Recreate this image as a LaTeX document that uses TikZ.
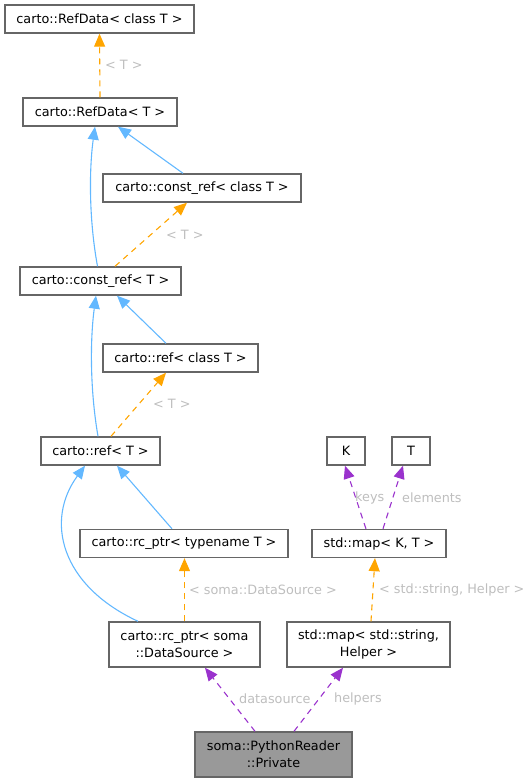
\documentclass[tikz,border=0pt]{standalone}
\usepackage{fontspec}
\setmainfont{DejaVu Sans}
\usetikzlibrary{arrows.meta}
\definecolor{inhblue}{HTML}{63B8FF}
\definecolor{tplorange}{HTML}{FFA500}
\definecolor{usepurple}{HTML}{9A32CD}
\definecolor{lblgray}{HTML}{BEBEBE}
\definecolor{boxgray}{HTML}{666666}

\begin{document}
\begin{tikzpicture}[
    x=1pt, y=-1pt,
    font=\fontsize{12.8}{17}\selectfont,
    klass/.style={rectangle, draw=boxgray, line width=1.4pt, fill=white, inner sep=2pt, minimum height=28pt, align=center},
    focus/.style={klass, fill=black!40, minimum height=45pt},
    twoline/.style={klass, minimum height=45pt},
    inherit/.style={draw=inhblue, line width=1.1pt, -{Triangle[length=13pt,width=11pt]}},
    tmpl/.style={draw=tplorange, line width=1.1pt, dash pattern=on 6pt off 5pt, -{Triangle[length=13pt,width=11pt]}},
    usage/.style={draw=usepurple, line width=1.1pt, dash pattern=on 6pt off 5pt, -{Triangle[length=13pt,width=11pt]}},
    lbl/.style={text=lblgray, inner sep=0pt, anchor=west}
]
    \useasboundingbox (0,0) rectangle (529,782);

    % carto templates
    \node[klass, minimum width=189pt] (refdatacls) at (99.5,19) {carto::RefData< class T >};
    \node[klass, minimum width=154pt] (refdata) at (100,112) {carto::RefData< T >};
    \node[klass, minimum width=198pt] (constrefcls) at (202,188) {carto::const\_ref< class T >};
    \node[klass, minimum width=161pt] (constref) at (100.5,281) {carto::const\_ref< T >};
    \node[klass, minimum width=155pt] (refcls) at (180.5,358) {carto::ref< class T >};
    \node[klass, minimum width=119pt] (ref) at (100.5,451) {carto::ref< T >};
    \node[klass, minimum width=208pt] (rcptrtn) at (184,543.5) {carto::rc\_ptr< typename T >};
    \node[twoline, minimum width=151pt] (rcptrds) at (184.5,644.5) {carto::rc\_ptr< soma\\::DataSource >};

    % std templates
    \node[klass, minimum width=38pt] (keyk) at (346,451) {K};
    \node[klass, minimum width=38pt] (elemt) at (411,451) {T};
    \node[klass, minimum width=134pt] (mapkt) at (379,543.5) {std::map< K, T >};
    \node[twoline, minimum width=163pt] (mapsh) at (368.5,644.5) {std::map< std::string,\\Helper >};

    % focus class
    \node[focus, minimum width=157pt] (private) at (273.5,754.5) {soma::PythonReader\\::Private};

    % inheritance
    \draw[inherit] ([xshift=-19pt]constrefcls.north) -- ([xshift=18pt]refdata.south);
    \draw[inherit] ([xshift=-3pt]constref.north) .. controls (89,220) and (89,170) .. ([xshift=-5pt]refdata.south);
    \draw[inherit] ([xshift=-14.5pt]refcls.north) -- ([xshift=16.5pt]constref.south);
    \draw[inherit] ([xshift=-2.5pt]ref.north) .. controls (90,390) and (90,340) .. ([xshift=-4.5pt]constref.south);
    \draw[inherit] ([xshift=-12pt]rcptrtn.north) -- ([xshift=16.5pt]ref.south);
    \draw[inherit] ([xshift=-46.5pt]rcptrds.north) .. controls (60,585) and (45,520) .. ([xshift=-15.5pt]ref.south);

    % template instances
    \draw[tmpl] (refdata.north) -- (refdatacls.south);
    \draw[tmpl] ([xshift=14.5pt]constref.north) -- ([xshift=-15pt]constrefcls.south);
    \draw[tmpl] ([xshift=10.5pt]ref.north) -- ([xshift=-14.5pt]refcls.south);
    \draw[tmpl] (rcptrds.north) -- ([xshift=0.5pt]rcptrtn.south);
    \draw[tmpl] ([xshift=2.5pt]mapsh.north) -- ([xshift=-4pt]mapkt.south);
    \node[lbl] (lbl1) at (105,65) {< T >};
    \node[lbl] (lbl2) at (166,235) {< T >};
    \node[lbl] (lbl3) at (153,404) {< T >};
    \node[lbl] (lbl4) at (189,590) {< soma::DataSource >};
    \node[lbl] (lbl5) at (379,590) {< std::string, Helper >};

    % usage
    \draw[usage] ([xshift=-13pt]mapkt.north) -- ([xshift=-1pt]keyk.south);
    \draw[usage] ([xshift=4pt]mapkt.north) -- ([xshift=-8pt]elemt.south);
    \draw[usage] ([xshift=-18.5pt]private.north) -- ([xshift=20.5pt]rcptrds.south);
    \draw[usage] ([xshift=20.5pt]private.north) -- ([xshift=-25.5pt]mapsh.south);
    \node[lbl] (lblkeys) at (355,498) {keys};
    \node[lbl] (lblelem) at (402,498) {elements};
    \node[lbl] (lblds) at (239,699) {datasource};
    \node[lbl] (lblhelp) at (334,699) {helpers};
\end{tikzpicture}
\end{document}
